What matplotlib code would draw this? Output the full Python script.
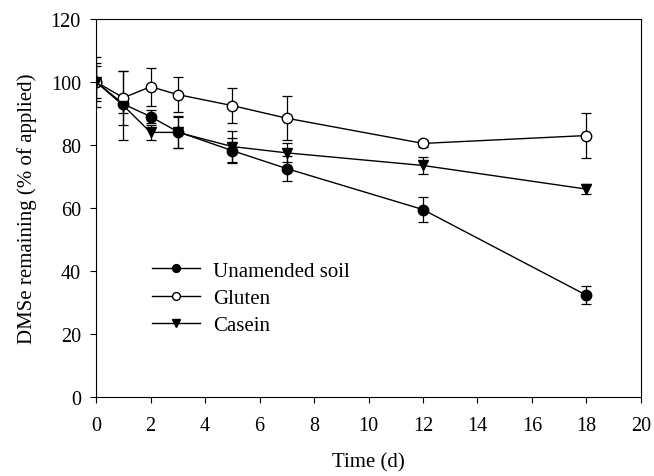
import numpy as np
import matplotlib
matplotlib.use('Agg')
import matplotlib.pyplot as plt

plt.rcParams['font.family'] = ['Liberation Serif', 'DejaVu Serif']

# Данные
time_d = [0, 1, 2, 3, 5, 7, 12, 18]
unamended = [100, 93, 89, 84.2, 78.2, 72.5, 59.5, 32.3]
unamended_err = [6, 3, 2, 5, 4, 4, 4, 2.8]
gluten = [100, 95, 98.5, 96, 92.5, 88.5, 80.5, 83]
gluten_err = [8, 8.5, 6, 5.5, 5.5, 7, 1, 7]
casein = [100, 92.5, 84, 84, 79.5, 77.5, 73.5, 66]
casein_err = [5, 11, 2.5, 5, 5, 3, 2.7, 1.5]

fig = plt.figure(figsize=(6.54, 4.77), dpi=100)
ax = fig.add_axes([0.147, 0.1656, 0.833, 0.7925])

common = dict(color='black', lw=1.0, capsize=3.5, elinewidth=0.9, capthick=0.9, ms=7.5)
ax.errorbar(time_d, unamended, yerr=unamended_err, marker='o', mfc='black', mec='black',
            label='Unamended soil', **common)
ax.errorbar(time_d, gluten, yerr=gluten_err, marker='o', mfc='white', mec='black',
            label='Gluten', **common)
ax.errorbar(time_d, casein, yerr=casein_err, marker='v', mfc='black', mec='black',
            label='Casein', **common)

ax.set_xlim(0, 20)
ax.set_ylim(0, 120)
ax.set_xticks(np.arange(0, 21, 2))
ax.set_yticks(np.arange(0, 121, 20))
ax.tick_params(direction='out', length=4, labelsize=14.5)
ax.tick_params(axis='x', pad=10)
ax.tick_params(axis='y', pad=7)
ax.set_xlabel('Time (d)', fontsize=15, labelpad=12)
ax.set_ylabel('DMSe remaining (% of applied)', fontsize=15, labelpad=10)

handles, labels = ax.get_legend_handles_labels()
handles = [h[0] for h in handles]
ax.legend(handles, labels, loc='upper left', bbox_to_anchor=(0.103, 0.36), frameon=False,
          fontsize=15, handlelength=2.3, handletextpad=0.6, labelspacing=0.37,
          borderpad=0, borderaxespad=0, markerscale=0.75)

fig.savefig('out.png', dpi=100)
